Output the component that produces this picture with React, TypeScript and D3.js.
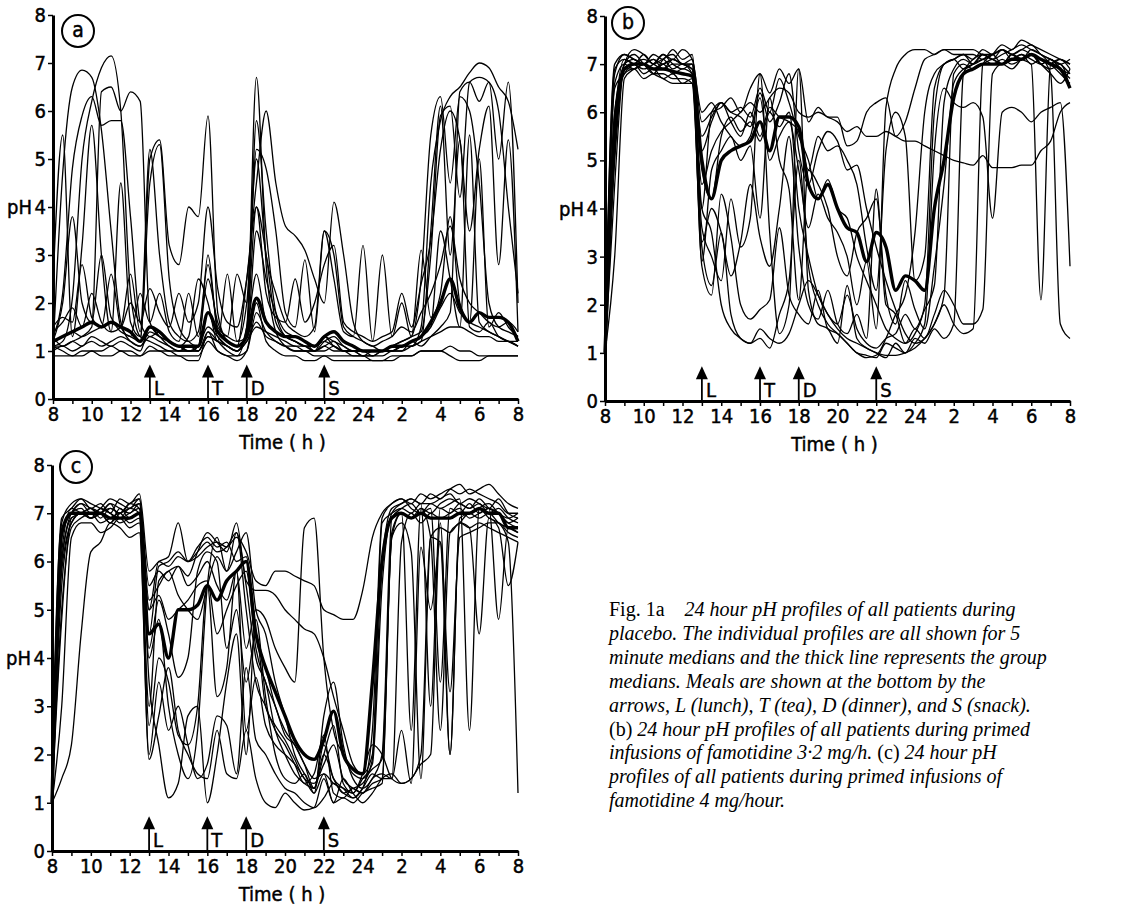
import React, { useEffect, useRef } from 'react';
import * as d3 from 'd3';

// time grid: every half hour from 08:00 to 08:00 next day (hours > 24 are the next morning)
const hours = d3.range(8, 32.001, 0.5);

const mealLabels = ['L', 'T', 'D', 'S'];
const mealHours = [13, 16, 18, 22];

const yTicks = [0, 1, 2, 3, 4, 5, 6, 7, 8];

// (a) placebo - individual 5 minute median profiles
const placebo = [
  [1.1, 1.2, 2.1, 5.0, 6.2, 6.9, 7.15, 6.0, 2.2, 1.3, 1.2, 1.1, 1.0, 1.0, 1.1, 1.0, 1.3, 1.2, 1.1, 1.0, 1.2, 1.5, 1.4, 1.3, 1.2, 1.1, 1.1, 1.0, 1.1, 1.2, 1.0, 1.0, 0.9, 0.9, 1.0, 1.0, 1.1, 1.1, 1.5, 4.5, 5.8, 6.3, 6.5, 6.8, 7.0, 6.9, 6.5, 6.2, 5.2],
  [1.0, 4.7, 6.5, 6.85, 6.7, 5.6, 3.5, 1.6, 1.2, 1.1, 1.3, 1.2, 1.1, 1.0, 1.0, 1.0, 1.4, 1.2, 1.0, 0.9, 1.0, 1.8, 1.4, 1.2, 1.1, 1.0, 1.0, 1.0, 1.3, 1.1, 1.0, 1.0, 0.9, 1.0, 1.0, 1.1, 1.2, 1.3, 1.4, 3.0, 5.9, 6.1, 4.2, 6.6, 6.7, 6.6, 6.0, 4.0, 2.2],
  [1.3, 2.2, 4.8, 5.9, 6.3, 5.7, 5.8, 5.8, 3.8, 1.6, 1.3, 1.4, 1.2, 1.1, 1.0, 1.0, 1.3, 1.2, 1.1, 1.0, 1.2, 1.6, 1.3, 1.2, 1.1, 1.1, 1.0, 1.0, 1.1, 1.0, 1.0, 0.9, 0.9, 0.9, 1.0, 1.0, 1.0, 1.2, 1.1, 1.3, 1.5, 1.8, 6.4, 6.6, 6.2, 6.6, 5.0, 6.6, 2.0],
  [1.1, 1.1, 1.2, 1.3, 1.5, 6.4, 6.5, 6.0, 6.4, 6.2, 1.6, 1.3, 1.2, 1.1, 1.0, 1.1, 1.5, 1.3, 1.1, 1.0, 1.5, 4.0, 3.0, 1.6, 1.3, 1.2, 1.1, 1.1, 1.3, 1.2, 1.1, 1.0, 1.0, 1.0, 1.0, 1.1, 1.2, 1.3, 2.5, 5.5, 6.3, 4.5, 6.3, 6.0, 4.5, 2.0, 1.5, 1.4, 1.3],
  [2.4, 5.5, 1.3, 3.2, 5.7, 3.0, 1.4, 4.5, 1.6, 1.3, 4.5, 5.3, 2.5, 1.5, 1.2, 1.1, 3.0, 1.4, 1.2, 1.1, 1.3, 5.8, 3.5, 1.8, 1.3, 1.2, 1.1, 1.1, 1.2, 1.1, 1.0, 1.0, 1.0, 1.0, 1.0, 1.0, 1.1, 1.2, 1.3, 1.5, 3.5, 2.5, 1.5, 5.5, 1.6, 1.4, 1.3, 1.2, 1.1],
  [1.2, 1.3, 1.4, 1.3, 1.4, 1.5, 1.6, 1.4, 1.3, 1.2, 5.0, 5.4, 3.2, 2.8, 4.0, 3.8, 5.9, 1.8, 1.2, 1.1, 2.5, 4.5, 6.0, 4.5, 3.6, 3.4, 3.1, 2.5, 2.0, 4.1, 3.0, 1.6, 1.2, 1.1, 1.0, 1.0, 1.1, 1.1, 1.2, 1.3, 1.4, 1.5, 1.5, 1.4, 1.3, 1.3, 1.2, 1.2, 1.1],
  [1.1, 1.0, 0.9, 0.9, 1.0, 1.0, 1.1, 1.0, 1.0, 0.9, 1.1, 1.0, 1.0, 0.9, 0.9, 0.9, 1.2, 1.0, 0.9, 0.9, 1.5, 6.7, 2.8, 1.4, 1.1, 1.0, 1.0, 0.9, 0.9, 0.9, 0.9, 0.9, 0.9, 0.8, 0.8, 0.8, 0.9, 0.9, 1.0, 1.0, 1.0, 1.1, 1.0, 1.0, 0.9, 0.9, 0.9, 0.9, 0.9],
  [1.5, 1.7, 1.6, 2.8, 1.7, 1.5, 2.6, 1.5, 1.3, 2.2, 1.6, 2.2, 1.4, 1.2, 2.2, 1.3, 2.5, 1.6, 1.3, 2.6, 2.0, 5.2, 4.8, 3.5, 1.8, 1.5, 2.9, 1.4, 3.5, 2.5, 1.4, 1.3, 3.2, 1.2, 3.0, 1.3, 2.0, 1.3, 3.1, 1.7, 2.2, 3.8, 2.0, 1.6, 5.0, 1.5, 1.8, 1.5, 1.3],
  [0.9, 0.9, 0.9, 1.0, 1.0, 0.9, 0.9, 1.0, 0.9, 0.9, 1.0, 1.0, 0.9, 0.9, 0.8, 0.8, 1.4, 1.0, 0.9, 0.8, 1.0, 2.0, 1.2, 1.0, 0.9, 0.9, 0.8, 0.8, 0.9, 0.8, 0.8, 0.8, 0.8, 0.8, 0.8, 0.9, 0.9, 0.9, 1.0, 1.0, 1.0, 0.9, 0.8, 0.8, 0.8, 0.9, 0.9, 0.9, 0.9],
  [1.2, 2.0, 3.8, 2.0, 1.6, 3.0, 1.7, 1.5, 2.0, 1.6, 2.3, 1.8, 1.5, 2.2, 1.6, 2.0, 4.0, 2.3, 1.6, 1.5, 2.5, 4.0, 2.2, 1.7, 1.6, 2.5, 1.6, 2.0, 2.8, 3.2, 1.6, 1.4, 1.3, 1.2, 1.3, 1.4, 2.2, 1.5, 2.4, 3.3, 5.2, 6.0, 5.4, 3.5, 5.2, 6.1, 2.8, 5.4, 1.4],
  [1.3, 1.1, 1.2, 1.1, 1.3, 1.2, 1.1, 1.2, 1.1, 1.0, 1.5, 1.3, 1.1, 1.0, 1.0, 1.1, 1.8, 1.3, 1.1, 1.0, 1.4, 2.6, 1.6, 1.4, 1.3, 1.2, 1.1, 1.0, 1.0, 1.1, 1.0, 1.0, 1.0, 1.0, 1.0, 1.1, 1.1, 1.2, 1.3, 1.5, 1.9, 2.2, 1.8, 1.6, 1.5, 1.4, 1.3, 1.2, 1.2],
  [1.4, 1.6, 1.9, 1.5, 2.2, 1.6, 1.4, 1.5, 2.6, 1.4, 5.2, 3.0, 1.6, 1.3, 1.2, 1.4, 2.8, 1.5, 1.3, 1.2, 2.0, 5.0, 3.0, 2.2, 1.6, 1.4, 1.3, 1.5, 3.5, 3.0, 1.5, 1.3, 1.2, 1.1, 1.2, 1.3, 1.5, 1.4, 1.8, 2.2, 2.8, 3.6, 2.5, 2.0, 1.8, 1.6, 1.5, 1.6, 1.4],
  [1.0, 1.1, 1.0, 1.1, 1.2, 1.1, 1.2, 1.3, 1.2, 1.1, 1.4, 1.3, 1.2, 1.1, 1.3, 2.5, 2.0, 1.2, 2.6, 1.2, 1.3, 3.5, 2.5, 1.8, 1.4, 1.3, 1.2, 1.0, 1.2, 1.3, 1.1, 1.0, 1.0, 0.9, 0.9, 1.0, 1.0, 1.1, 1.2, 3.5, 6.1, 3.0, 5.4, 1.5, 1.4, 1.6, 1.3, 1.2, 1.1],
];
const placeboMedian = [1.2, 1.3, 1.4, 1.5, 1.6, 1.5, 1.6, 1.5, 1.4, 1.2, 1.5, 1.4, 1.2, 1.1, 1.1, 1.1, 1.8, 1.4, 1.2, 1.1, 1.3, 2.1, 1.6, 1.4, 1.3, 1.3, 1.2, 1.1, 1.3, 1.4, 1.2, 1.1, 1.0, 1.0, 1.0, 1.1, 1.1, 1.2, 1.3, 1.6, 2.0, 2.5, 1.9, 1.6, 1.8, 1.7, 1.7, 1.6, 1.2];

// (b) famotidine 3.2 mg/h
const famo32 = [
  [1.0, 6.8, 7.2, 7.1, 7.0, 6.9, 7.0, 7.1, 7.0, 6.9, 4.5, 5.2, 5.6, 5.8, 6.0, 6.2, 6.0, 6.3, 6.5, 6.4, 6.0, 5.9, 6.0, 5.9, 5.8, 5.6, 5.7, 5.5, 5.5, 5.6, 5.5, 5.4, 5.4, 5.3, 5.2, 5.1, 5.0, 4.95, 4.9, 5.1, 4.85, 4.85, 4.85, 4.9, 4.9, 5.2, 5.4, 6.0, 6.2],
  [1.2, 5.0, 6.9, 7.0, 6.8, 6.9, 6.7, 6.8, 6.6, 6.7, 2.8, 2.2, 4.3, 3.4, 2.0, 1.7, 1.9, 2.1, 3.6, 2.2, 1.8, 1.6, 2.3, 1.5, 1.4, 1.2, 1.0, 0.95, 0.9, 1.2, 1.1, 1.0, 1.3, 1.2, 1.5, 1.3, 1.6, 6.8, 7.1, 7.2, 7.1, 7.2, 7.3, 7.4, 7.3, 7.2, 7.1, 7.0, 6.8],
  [1.0, 4.5, 7.0, 7.1, 7.0, 7.1, 7.0, 7.1, 7.0, 7.0, 3.2, 2.4, 3.5, 1.8, 1.3, 1.2, 1.3, 1.1, 1.8, 2.5, 5.0, 2.8, 2.0, 1.6, 1.4, 1.2, 1.0, 0.9, 0.95, 1.3, 1.8, 2.2, 3.5, 6.0, 6.8, 7.0, 7.1, 7.2, 7.1, 7.3, 7.2, 7.3, 7.1, 7.2, 7.0, 7.1, 6.8, 1.6, 1.3],
  [1.1, 6.0, 7.0, 7.2, 7.0, 6.8, 7.1, 7.2, 7.0, 7.1, 5.8, 6.0, 6.1, 6.3, 6.0, 6.5, 6.8, 6.4, 6.9, 6.6, 6.9, 5.8, 6.1, 5.9, 5.9, 5.3, 5.4, 6.0, 6.2, 6.3, 5.5, 5.8, 6.5, 7.1, 7.2, 7.3, 7.3, 7.3, 7.3, 7.2, 7.2, 7.3, 7.2, 7.3, 7.2, 7.1, 7.0, 7.1, 6.9],
  [0.9, 5.8, 7.1, 7.0, 7.2, 7.0, 7.1, 6.9, 7.0, 7.0, 2.9, 4.8, 5.2, 5.5, 5.0, 5.3, 3.8, 6.3, 5.0, 4.4, 2.1, 4.8, 4.5, 4.0, 3.0, 2.6, 3.5, 3.8, 4.2, 2.2, 1.6, 2.5, 1.9, 1.5, 2.8, 4.5, 6.6, 6.9, 7.0, 7.1, 7.0, 7.1, 7.0, 7.1, 7.2, 7.0, 6.9, 7.0, 6.5],
  [1.0, 5.5, 6.9, 6.9, 7.0, 6.8, 6.7, 6.6, 6.6, 6.6, 3.6, 3.0, 2.5, 4.2, 3.2, 3.8, 6.8, 3.5, 1.4, 2.0, 6.9, 2.3, 1.6, 1.5, 1.2, 2.4, 1.3, 1.1, 1.0, 0.9, 1.2, 1.0, 1.2, 1.6, 5.2, 6.5, 6.2, 6.1, 6.2, 5.9, 3.8, 6.0, 6.1, 6.0, 5.8, 6.0, 6.1, 6.2, 2.8],
  [1.1, 6.9, 7.1, 7.0, 6.9, 7.0, 7.2, 7.0, 6.9, 7.0, 5.5, 5.9, 6.2, 6.0, 5.9, 5.7, 6.4, 5.8, 6.2, 6.8, 5.2, 4.5, 5.2, 5.6, 5.4, 4.8, 4.9, 4.0, 3.2, 2.5, 1.9, 1.4, 1.2, 1.3, 1.6, 2.2, 6.8, 7.0, 6.9, 7.0, 7.1, 7.0, 7.2, 7.1, 7.0, 2.1, 7.0, 7.1, 7.0],
  [1.0, 3.0, 6.7, 6.9, 7.0, 7.1, 6.9, 7.0, 7.0, 6.8, 4.0, 3.5, 2.0, 1.5, 1.3, 1.2, 1.5, 1.3, 1.2, 1.4, 2.0, 2.5, 2.2, 1.8, 1.5, 1.3, 1.2, 1.1, 1.0, 0.95, 0.95, 1.0, 1.1, 1.3, 1.6, 2.0, 1.6, 1.4, 1.5, 7.0, 7.2, 7.4, 7.3, 7.5, 7.4, 7.3, 7.2, 7.1, 7.0],
  [1.3, 7.0, 7.2, 7.1, 7.0, 7.2, 7.1, 7.3, 7.1, 7.2, 4.0, 6.0, 6.2, 5.8, 5.5, 6.0, 5.5, 6.1, 5.9, 5.8, 5.6, 4.8, 5.5, 5.2, 5.3, 5.0, 4.5, 3.2, 2.3, 5.2, 6.0, 5.5, 2.5, 3.0, 6.5, 7.0, 7.1, 6.9, 7.0, 7.2, 7.1, 7.0, 7.2, 7.1, 7.2, 7.0, 7.1, 6.9, 6.8],
  [1.0, 6.5, 6.8, 6.9, 6.7, 6.8, 6.8, 6.7, 6.7, 6.6, 3.3, 4.0, 3.5, 2.6, 3.3, 4.5, 3.4, 2.8, 4.0, 5.5, 3.2, 2.0, 1.7, 2.3, 1.6, 1.4, 1.8, 1.3, 4.4, 2.0, 1.8, 1.2, 1.5, 1.3, 1.8, 2.3, 2.0, 1.6, 1.6, 1.9, 6.8, 7.0, 6.9, 7.1, 7.2, 7.0, 6.8, 6.6, 6.9],
  [1.1, 5.2, 7.0, 7.3, 7.2, 7.0, 7.2, 7.1, 7.3, 7.1, 6.0, 6.2, 5.8, 5.5, 5.3, 5.5, 6.3, 5.0, 5.5, 5.8, 4.8, 3.6, 4.3, 3.8, 3.5, 3.0, 2.0, 2.9, 1.5, 6.1, 6.9, 7.2, 7.3, 7.3, 7.2, 7.3, 7.2, 7.2, 7.2, 7.1, 7.2, 7.3, 7.2, 7.3, 7.4, 7.2, 7.1, 7.0, 7.1],
  [1.0, 6.6, 7.0, 6.9, 7.0, 6.9, 7.0, 6.8, 6.9, 6.8, 5.2, 5.8, 6.2, 6.0, 6.1, 5.9, 6.5, 6.0, 6.7, 6.2, 5.5, 5.0, 4.2, 4.6, 4.0, 3.8, 3.0, 2.5, 2.0, 1.5, 1.3, 1.2, 1.4, 2.0, 6.0, 7.0, 7.1, 7.2, 7.0, 7.1, 7.2, 7.0, 7.1, 7.2, 7.1, 7.0, 7.1, 6.9, 6.7],
  [1.1, 6.0, 6.8, 7.0, 7.1, 7.0, 6.9, 7.1, 7.0, 6.9, 4.8, 4.2, 5.5, 5.9, 5.6, 5.8, 5.4, 6.0, 5.7, 6.0, 4.0, 3.0, 2.2, 1.8, 1.6, 2.2, 1.5, 1.2, 1.1, 1.3, 1.4, 1.8, 1.5, 1.9, 2.4, 6.2, 6.9, 7.1, 7.0, 7.2, 7.1, 7.3, 7.2, 7.1, 7.3, 7.2, 7.0, 6.8, 6.6],
];
const famo32Median = [1.0, 5.5, 6.9, 7.0, 7.0, 6.9, 6.9, 6.85, 6.8, 6.75, 5.0, 4.2, 5.0, 5.2, 5.3, 5.4, 5.8, 5.2, 5.9, 5.9, 5.7, 4.5, 4.2, 4.5, 4.0, 3.6, 3.5, 2.9, 3.5, 3.2, 2.3, 2.6, 2.5, 2.3, 4.0, 5.0, 6.3, 6.8, 6.9, 7.0, 7.0, 7.0, 7.1, 7.1, 7.2, 7.1, 7.0, 6.9, 6.5];

// (c) famotidine 4 mg/hour
const famo4 = [
  [1.0, 6.8, 7.2, 7.3, 7.1, 7.2, 7.0, 7.3, 7.2, 7.4, 5.8, 6.0, 6.1, 6.8, 6.0, 6.1, 6.3, 6.4, 6.3, 6.5, 6.2, 5.6, 5.5, 5.8, 5.8, 5.7, 5.6, 5.5, 5.0, 4.9, 4.8, 4.8, 5.4, 6.5, 7.0, 7.2, 7.3, 7.2, 7.4, 7.3, 7.4, 7.5, 7.4, 7.5, 7.4, 7.3, 7.2, 7.0, 7.0],
  [1.1, 6.5, 7.0, 7.1, 6.9, 7.0, 7.2, 7.1, 7.0, 7.2, 5.5, 5.8, 5.6, 5.9, 5.7, 6.2, 6.6, 6.4, 6.2, 6.8, 5.6, 5.4, 5.4, 5.3, 5.0, 4.8, 4.6, 4.5, 4.0, 3.2, 2.5, 1.8, 1.6, 2.0, 6.8, 7.0, 7.1, 7.0, 7.2, 3.0, 7.1, 7.0, 7.2, 7.1, 7.3, 7.1, 7.0, 6.8, 6.9],
  [1.2, 6.9, 7.1, 7.3, 7.2, 7.1, 7.0, 6.9, 7.1, 7.0, 3.0, 5.6, 5.8, 5.9, 5.5, 5.7, 6.0, 5.5, 5.2, 5.8, 4.2, 5.0, 4.8, 4.2, 3.8, 3.5, 6.7, 6.9, 4.0, 2.5, 2.0, 1.6, 1.5, 1.7, 1.9, 6.5, 7.0, 2.5, 7.1, 7.0, 7.2, 7.3, 7.2, 7.1, 7.2, 7.0, 7.1, 6.9, 6.8],
  [1.0, 1.5, 2.2, 4.5, 6.2, 6.4, 6.8, 6.7, 6.5, 6.6, 2.0, 3.5, 2.5, 3.0, 2.2, 1.5, 1.8, 2.8, 2.6, 1.6, 3.8, 2.3, 2.0, 1.6, 1.3, 1.2, 1.0, 0.9, 1.1, 1.4, 1.2, 1.1, 1.3, 1.6, 1.5, 1.5, 2.5, 1.4, 6.3, 5.0, 6.4, 3.3, 6.5, 6.6, 6.7, 6.8, 6.8, 6.6, 6.5],
  [1.1, 4.8, 6.9, 7.0, 7.1, 7.0, 6.8, 7.0, 7.1, 7.2, 3.5, 2.2, 1.1, 1.4, 2.8, 3.0, 1.0, 2.0, 3.5, 4.5, 2.0, 4.8, 3.2, 2.0, 1.5, 1.4, 1.6, 1.2, 1.6, 1.0, 1.5, 1.2, 1.0, 1.2, 1.5, 1.6, 1.4, 1.5, 1.8, 2.0, 6.8, 2.0, 6.9, 7.0, 7.1, 6.9, 6.8, 6.4, 1.2],
  [1.0, 6.0, 7.0, 7.2, 7.0, 7.1, 7.3, 7.2, 7.1, 7.3, 5.2, 5.5, 5.8, 5.3, 5.0, 4.8, 5.5, 6.1, 5.8, 6.2, 6.6, 5.0, 4.5, 3.5, 2.8, 2.0, 1.6, 1.3, 2.2, 1.5, 1.3, 1.1, 1.3, 2.5, 6.9, 7.2, 7.3, 7.1, 7.0, 7.2, 7.1, 7.2, 7.3, 2.5, 7.1, 7.2, 7.0, 6.9, 7.0],
  [1.2, 5.0, 6.7, 6.9, 7.0, 6.8, 6.9, 7.0, 6.8, 6.9, 2.6, 4.0, 3.5, 2.4, 2.2, 3.0, 5.5, 3.2, 3.8, 5.8, 2.5, 3.6, 2.6, 2.2, 2.0, 1.8, 1.5, 1.2, 2.8, 3.5, 2.2, 1.5, 1.3, 1.5, 2.0, 6.9, 7.1, 7.2, 7.0, 7.1, 3.5, 7.1, 7.0, 7.2, 7.0, 7.1, 7.0, 6.8, 6.7],
  [1.0, 5.5, 6.8, 7.0, 6.9, 7.0, 7.1, 7.0, 7.2, 7.1, 4.5, 5.9, 6.0, 6.2, 6.0, 6.3, 6.5, 6.3, 6.4, 6.0, 6.1, 4.5, 3.8, 3.0, 2.5, 2.2, 1.8, 1.5, 1.6, 1.4, 1.3, 1.2, 1.5, 1.8, 5.5, 7.0, 7.2, 7.3, 7.2, 7.4, 7.3, 7.5, 7.6, 7.4, 7.5, 7.6, 7.4, 7.2, 7.1],
  [1.1, 6.6, 7.0, 7.2, 7.1, 7.0, 7.2, 6.9, 7.0, 7.1, 5.0, 5.3, 4.8, 5.0, 5.2, 5.5, 5.6, 4.5, 5.0, 5.5, 5.8, 4.2, 3.5, 3.0, 2.4, 2.2, 1.8, 1.3, 2.0, 2.6, 1.4, 1.2, 1.6, 2.2, 2.0, 1.5, 1.4, 1.5, 2.0, 6.5, 6.4, 2.0, 6.8, 6.7, 4.5, 6.9, 6.7, 5.5, 6.4],
  [1.0, 6.2, 7.1, 7.0, 6.9, 7.1, 7.0, 6.8, 6.9, 7.0, 4.0, 4.8, 3.0, 2.0, 1.5, 2.5, 5.5, 6.5, 5.8, 6.6, 5.0, 3.5, 3.0, 2.5, 2.2, 1.8, 1.4, 1.6, 2.4, 1.2, 1.1, 1.3, 1.2, 1.5, 1.6, 1.5, 6.4, 7.0, 6.8, 7.0, 6.9, 7.0, 7.1, 6.9, 7.0, 7.1, 4.8, 6.7, 6.6],
  [1.0, 3.0, 6.5, 6.8, 6.8, 6.6, 6.7, 6.9, 6.7, 6.8, 1.9, 2.8, 3.8, 2.5, 2.0, 1.6, 1.5, 2.5, 1.6, 1.5, 2.5, 1.5, 1.0, 0.9, 1.2, 1.0, 0.85, 0.9, 1.5, 1.0, 1.1, 1.0, 1.2, 1.3, 1.4, 6.5, 6.8, 6.2, 1.5, 6.5, 6.7, 6.6, 6.8, 6.7, 6.8, 6.7, 6.6, 6.5, 6.4],
  [1.1, 6.0, 6.9, 7.0, 7.1, 6.9, 7.1, 7.0, 7.2, 7.3, 5.0, 6.0, 5.9, 6.1, 6.0, 6.2, 6.4, 6.2, 6.3, 6.6, 5.5, 4.0, 3.5, 2.5, 2.0, 1.6, 1.4, 1.3, 2.0, 1.5, 1.2, 1.3, 1.4, 1.9, 6.0, 7.1, 7.2, 7.3, 7.2, 7.2, 7.3, 7.4, 7.2, 7.3, 7.2, 7.1, 7.3, 7.0, 6.9],
  [1.0, 5.8, 6.8, 7.0, 6.9, 7.0, 6.8, 7.1, 6.9, 7.0, 4.2, 5.2, 4.5, 3.6, 4.0, 5.8, 6.2, 6.0, 4.2, 5.0, 3.5, 4.5, 3.0, 2.6, 2.3, 1.9, 1.5, 1.4, 1.8, 2.2, 1.5, 1.3, 1.2, 1.4, 1.5, 6.6, 7.0, 6.9, 7.1, 6.5, 2.5, 6.6, 6.8, 7.0, 6.9, 7.0, 6.8, 6.7, 6.6],
];
const famo4Median = [1.0, 6.6, 7.0, 7.0, 7.0, 7.0, 6.9, 6.9, 6.9, 7.0, 4.5, 4.7, 4.0, 5.0, 5.0, 5.1, 5.5, 5.2, 5.6, 5.8, 6.0, 4.5, 3.8, 3.3, 2.8, 2.3, 2.0, 1.9, 2.3, 2.9, 2.0, 1.7, 1.6, 3.5, 6.0, 6.9, 7.0, 6.9, 7.0, 6.9, 6.9, 6.9, 7.0, 7.0, 7.1, 7.0, 7.0, 6.7, 6.7];

const captionLines = [
  [{ t: 'Fig. 1a', i: false }, { t: '    24 hour pH profiles of all patients during', i: true }],
  [{ t: 'placebo. The individual profiles are all shown for 5', i: true }],
  [{ t: 'minute medians and the thick line represents the group', i: true }],
  [{ t: 'medians. Meals are shown at the bottom by the', i: true }],
  [{ t: 'arrows, L (lunch), T (tea), D (dinner), and S (snack).', i: true }],
  [{ t: '(b) ', i: false }, { t: '24 hour pH profiles of all patients during primed', i: true }],
  [{ t: 'infusions of famotidine 3·2 mg/h. ', i: true }, { t: '(c) ', i: false }, { t: '24 hour pH', i: true }],
  [{ t: 'profiles of all patients during primed infusions of', i: true }],
  [{ t: 'famotidine 4 mg/hour.', i: true }],
];

const W = 1128;
const H = 911;
const FONT = "'Liberation Sans Narrow', 'DejaVu Sans Condensed', 'DejaVu Sans', sans-serif";

const panels = [
  { letter: 'a', profiles: placebo, median: placeboMedian, x0: 53, x1: 518, yTop: 15, yBottom: 399, cx: 78, cy: 31 },
  { letter: 'b', profiles: famo32, median: famo32Median, x0: 605, x1: 1070, yTop: 16, yBottom: 401, cx: 628, cy: 23 },
  { letter: 'c', profiles: famo4, median: famo4Median, x0: 52, x1: 518, yTop: 465, yBottom: 851, cx: 76, cy: 467 },
];

// lettering style shared by axis labels
const letter = (sel: any, size = 20) =>
  sel.attr('font-family', FONT)
    .attr('font-size', size)
    .attr('fill', '#000')
    .attr('stroke', '#000')
    .attr('stroke-width', 0.45);

const App = () => {
  const ref = useRef<SVGSVGElement | null>(null);

  useEffect(() => {
    const svg = d3.select(ref.current);
    svg.selectAll('*').remove();

    svg.append('rect').attr('width', W).attr('height', H).attr('fill', 'white');

    panels.forEach(p => {
      const x = d3.scaleLinear().domain([8, 32]).range([p.x0, p.x1]);
      const y = d3.scaleLinear().domain([0, 8]).range([p.yBottom, p.yTop]);
      const g = svg.append('g');

      const line = d3.line<number>()
        .x((d, i) => x(hours[i]))
        .y(d => y(d))
        .curve(d3.curveMonotoneX);

      // individual profiles
      g.selectAll('path.profile')
        .data(p.profiles)
        .enter()
        .append('path')
        .attr('class', 'profile')
        .attr('d', d => line(d))
        .attr('fill', 'none')
        .attr('stroke', '#000')
        .attr('stroke-width', 1.3)
        .attr('stroke-linejoin', 'round');

      // group median - thick line
      g.append('path')
        .attr('d', line(p.median))
        .attr('fill', 'none')
        .attr('stroke', '#000')
        .attr('stroke-width', 3.4)
        .attr('stroke-linejoin', 'round');

      // x axis
      const xAxis = d3.axisBottom(x)
        .tickValues(d3.range(8, 33, 1))
        .tickSize(5)
        .tickSizeOuter(0)
        .tickPadding(3)
        .tickFormat(h => (+h % 2 === 0 ? String(+h > 24 ? +h - 24 : +h) : ''));
      const gx = g.append('g').attr('transform', `translate(0,${p.yBottom})`).call(xAxis);
      gx.select('.domain').attr('stroke-width', 3);
      gx.selectAll('.tick line').attr('stroke-width', 1.5);
      letter(gx.selectAll('.tick text'));

      // y axis
      const yAxis = d3.axisLeft(y)
        .tickValues(yTicks)
        .tickSize(5)
        .tickSizeOuter(0)
        .tickPadding(2)
        .tickFormat(d3.format('d'));
      const gy = g.append('g').attr('transform', `translate(${p.x0},0)`).call(yAxis);
      gy.select('.domain').attr('stroke-width', 3);
      gy.selectAll('.tick line').attr('stroke-width', 1.5);
      letter(gy.selectAll('.tick text'));

      // axis titles
      letter(g.append('text')
        .attr('x', p.x0 - 21)
        .attr('y', y(4) + 7)
        .attr('text-anchor', 'end')
        .text('pH'));
      letter(g.append('text')
        .attr('x', (p.x0 + p.x1) / 2 - 3)
        .attr('y', p.yBottom + 50)
        .attr('text-anchor', 'middle')
        .text('Time ( h )'));

      // panel letter in a circle
      g.append('circle')
        .attr('cx', p.cx)
        .attr('cy', p.cy)
        .attr('r', 16)
        .attr('fill', 'white')
        .attr('stroke', '#000')
        .attr('stroke-width', 2);
      letter(g.append('text')
        .attr('x', p.cx)
        .attr('y', p.cy + 6)
        .attr('text-anchor', 'middle')
        .text(p.letter), 21);

      // meal arrows
      const meals = g.selectAll('g.meal')
        .data(mealHours)
        .enter()
        .append('g')
        .attr('class', 'meal');
      meals.append('line')
        .attr('x1', d => x(d))
        .attr('x2', d => x(d))
        .attr('y1', y(0))
        .attr('y2', y(0.5))
        .attr('stroke', '#000')
        .attr('stroke-width', 1.8);
      meals.append('path')
        .attr('d', d => {
          const tip = y(0.72);
          return `M${x(d)},${tip} L${x(d) + 6},${tip + 13} L${x(d) - 6},${tip + 13} Z`;
        })
        .attr('fill', '#000');
      letter(meals.append('text')
        .attr('x', d => x(d) + 4)
        .attr('y', y(0) - 4)
        .text((d, i) => mealLabels[i]));
    });

    // caption
    const cap = svg.append('text')
      .attr('font-family', "'Liberation Serif', 'DejaVu Serif', serif")
      .attr('font-size', 20)
      .attr('xml:space', 'preserve')
      .attr('fill', '#000');
    captionLines.forEach((ln, li) => {
      const row = cap.append('tspan').attr('x', 609).attr('y', 616 + li * 23.9);
      ln.forEach(seg => {
        row.append('tspan')
          .attr('font-style', seg.i ? 'italic' : 'normal')
          .text(seg.t);
      });
    });
  }, []);

  return (
    <svg
      ref={ref}
      width={W}
      height={H}
      style={{ position: 'absolute', left: 0, top: 0, display: 'block' }}
    />
  );
};

export default App;
